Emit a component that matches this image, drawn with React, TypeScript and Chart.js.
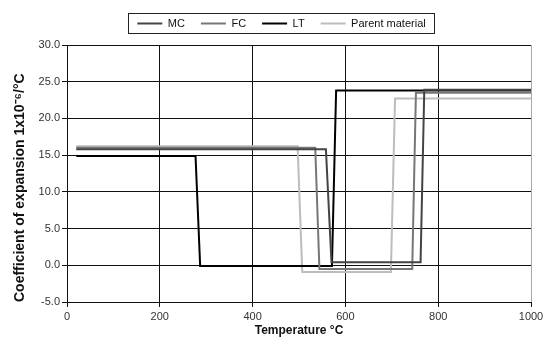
import React, { useEffect, useRef } from "react";
import { Chart, registerables } from "chart.js";

Chart.register(...registerables);

const seriesNames = ["MC", "FC", "LT", "Parent material"];
const seriesColors = ["#444444", "#777777", "#000000", "#bdbdbd"];

const mcTemp = [20, 558, 570, 762, 770, 1000];
const mcCoef = [15.8, 15.8, 0.4, 0.4, 23.9, 23.9];

const fcTemp = [20, 535, 544, 744, 752, 1000];
const fcCoef = [16.0, 16.0, -0.5, -0.5, 23.5, 23.5];

const ltTemp = [20, 277, 287, 571, 580, 1000];
const ltCoef = [14.9, 14.9, -0.1, -0.1, 23.8, 23.8];

const pmTemp = [20, 497, 507, 698, 707, 1000];
const pmCoef = [16.2, 16.2, -0.9, -0.9, 22.7, 22.7];

const xTicks = [0, 200, 400, 600, 800, 1000];
const yTicks = [-5, 0, 5, 10, 15, 20, 25, 30];

const xTitle = "Temperature \u00B0C";
const yTitle = "Coefficient of expansion 1x10\u207B\u2076/\u00B0C";

const FONT = "'Liberation Sans', Arial, sans-serif";

const toPoints = (xs: number[], ys: number[]) => xs.map((x, i) => ({ x, y: ys[i] }));

const LEGEND_SHIFT = 16;

const legendBox = {
  id: "legendBox",
  beforeDraw(chart: any) {
    const lg = chart.legend;
    if (!lg || lg._shifted) return;
    lg.left += LEGEND_SHIFT;
    lg.right += LEGEND_SHIFT;
    (lg.legendHitBoxes || []).forEach((b: any) => {
      b.left += LEGEND_SHIFT;
    });
    lg._shifted = true;
  },
  afterDraw(chart: any) {
    const lg = chart.legend;
    if (!lg || !lg.legendHitBoxes || !lg.legendHitBoxes.length) return;
    const hb = lg.legendHitBoxes;
    let minX = Infinity, maxX = -Infinity, minY = Infinity, maxY = -Infinity;
    hb.forEach((b: any) => {
      minX = Math.min(minX, b.left);
      maxX = Math.max(maxX, b.left + b.width);
      minY = Math.min(minY, b.top);
      maxY = Math.max(maxY, b.top + b.height);
    });
    const ctx = chart.ctx;
    ctx.save();
    ctx.strokeStyle = "#222";
    ctx.lineWidth = 1;
    ctx.strokeRect(Math.round(minX - 9) + 0.5, Math.round(minY - 5) + 0.5, Math.round(maxX - minX + 18), Math.round(maxY - minY + 9));
    ctx.restore();
  },
};

export default function App() {
  const ref = useRef<HTMLCanvasElement>(null);
  useEffect(() => {
    if (!ref.current) return;
    const xs = [mcTemp, fcTemp, ltTemp, pmTemp];
    const ys = [mcCoef, fcCoef, ltCoef, pmCoef];
    const chart = new Chart(ref.current, {
      type: "scatter",
      data: {
        datasets: seriesNames.map((name, i) => ({
          label: name,
          data: toPoints(xs[i], ys[i]),
          showLine: true,
          borderColor: seriesColors[i],
          backgroundColor: seriesColors[i],
          borderWidth: 2,
          pointRadius: 0,
          pointStyle: "line",
          tension: 0,
        })),
      },
      options: {
        animation: false,
        responsive: false,
        maintainAspectRatio: false,
        layout: { padding: { left: 0, right: 13, top: 2, bottom: 0 } },
        plugins: {
          tooltip: { enabled: false },
          legend: {
            display: true,
            position: "top",
            labels: {
              usePointStyle: true,
              pointStyleWidth: 25,
              boxHeight: 11,
              padding: 16,
              color: "#111",
              font: { family: FONT, size: 11 },
            },
          },
        },
        scales: {
          xTop: {
            type: "linear",
            position: "top",
            display: true,
            min: 0,
            max: 1000,
            afterFit: (s: any) => {
              s.height = 6;
              s.paddingRight = 0;
              s.paddingLeft = 0;
            },
            ticks: { display: false },
            grid: { display: false, drawTicks: false },
            border: { display: false },
          },
          x: {
            type: "linear",
            position: "bottom",
            min: 0,
            max: 1000,
            afterBuildTicks: (s: any) => {
              s.ticks = xTicks.map((v) => ({ value: v }));
            },
            afterFit: (s: any) => {
              s.height = 43;
              s.paddingRight = 0;
              s.paddingLeft = 0;
            },
            ticks: {
              color: "#333",
              font: { family: FONT, size: 11 },
              padding: 3,
              maxRotation: 0,
              callback: (v: any) => String(v),
            },
            grid: {
              color: (c: any) => (c.tick && c.tick.value === 1000 ? "#aaaaaa" : "#111"),
              tickColor: "#111",
              tickLength: 5,
              lineWidth: 1,
            },
            border: { color: "#111", width: 1 },
            title: {
              display: true,
              text: xTitle,
              color: "#111",
              font: { family: FONT, size: 12, weight: "bold" },
              padding: { top: 2, bottom: 7 },
            },
          },
          y: {
            type: "linear",
            min: -5,
            max: 30,
            afterBuildTicks: (s: any) => {
              s.ticks = yTicks.map((v) => ({ value: v }));
            },
            afterFit: (s: any) => {
              s.width = 67;
            },
            ticks: {
              color: "#333",
              font: { family: FONT, size: 11 },
              padding: 2,
              callback: (v: any) => Number(v).toFixed(1),
            },
            grid: {
              color: "#111",
              tickColor: "#111",
              tickLength: 5,
              lineWidth: 1,
            },
            border: { color: "#111", width: 1 },
            title: {
              display: true,
              text: yTitle,
              align: "start",
              color: "#111",
              font: { family: FONT, size: 14, weight: "bold" },
              padding: { top: 12, bottom: 4 },
            },
          },
        },
      },
      plugins: [legendBox],
    });
    return () => chart.destroy();
  }, []);
  return (
    <div style={{ position: "fixed", left: 0, top: 0, width: 544, height: 345, background: "#fff" }}>
      <canvas ref={ref} width={544} height={345} style={{ width: 544, height: 345 }} />
    </div>
  );
}
